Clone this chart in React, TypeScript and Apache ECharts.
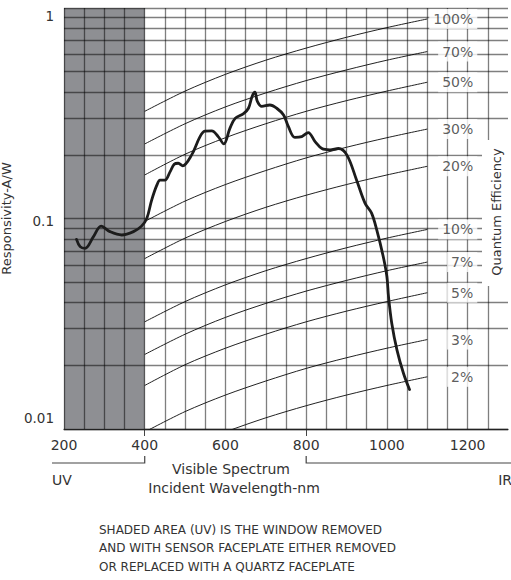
import React, { useEffect, useRef } from "react";
import * as echarts from "echarts";

// ---- data ----
const qeWavelengths = [400, 500, 600, 700, 800, 900, 1000, 1100];
const qe100 = [0.323, 0.403, 0.484, 0.565, 0.645, 0.726, 0.807, 0.887];
const qe70 = [0.226, 0.282, 0.339, 0.395, 0.452, 0.508, 0.565, 0.621];
const qe50 = [0.161, 0.202, 0.242, 0.282, 0.323, 0.363, 0.403, 0.444];
const qe30 = [0.0968, 0.121, 0.145, 0.169, 0.194, 0.218, 0.242, 0.266];
const qe20 = [0.0645, 0.0807, 0.0968, 0.113, 0.129, 0.145, 0.161, 0.177];
const qe10 = [0.0323, 0.0403, 0.0484, 0.0565, 0.0645, 0.0726, 0.0807, 0.0887];
const qe7 = [0.0226, 0.0282, 0.0339, 0.0395, 0.0452, 0.0508, 0.0565, 0.0621];
const qe5 = [0.0161, 0.0202, 0.0242, 0.0282, 0.0323, 0.0363, 0.0403, 0.0444];
const qe3 = [0.00968, 0.0121, 0.0145, 0.0169, 0.0194, 0.0218, 0.0242, 0.0266];
const qe2 = [0.00645, 0.00807, 0.00968, 0.0113, 0.0129, 0.0145, 0.0161, 0.0177];
const qeLines = [qe100, qe70, qe50, qe30, qe20, qe10, qe7, qe5, qe3, qe2];
const qeLabels = ["100%", "70%", "50%", "30%", "20%", "10%", "7%", "5%", "3%", "2%"];

const respWavelength = [231, 240, 252, 273, 292, 314, 343, 372, 392, 405, 417, 430, 438, 450, 463, 473, 483, 494, 516, 537, 549, 566, 582, 596, 611, 624, 644, 657, 666, 673, 679, 690, 710, 727, 744, 756, 772, 789, 805, 822, 839, 859, 880, 901, 925, 946, 962, 975, 991, 1000, 1004, 1012, 1025, 1041, 1056];
const respValue = [0.0796, 0.0735, 0.0722, 0.082, 0.092, 0.0866, 0.0835, 0.0866, 0.092, 0.1, 0.122, 0.144, 0.152, 0.152, 0.167, 0.181, 0.183, 0.178, 0.2, 0.245, 0.26, 0.261, 0.245, 0.226, 0.268, 0.299, 0.314, 0.334, 0.38, 0.398, 0.36, 0.341, 0.346, 0.334, 0.31, 0.273, 0.243, 0.245, 0.256, 0.232, 0.215, 0.212, 0.215, 0.2, 0.152, 0.118, 0.106, 0.088, 0.0658, 0.0529, 0.0425, 0.0318, 0.0237, 0.0184, 0.0154];

const uvRange = [200, 400];
const xGridValues = [200, 250, 300, 350, 400, 450, 500, 550, 600, 650, 700, 750, 800, 850, 900, 950, 1000, 1050, 1100, 1150, 1200, 1250];
const yGridValues = [0.01, 0.02, 0.03, 0.04, 0.05, 0.06, 0.07, 0.08, 0.09, 0.1, 0.2, 0.3, 0.4, 0.5, 0.6, 0.7, 0.8, 0.9, 1];
const xTickMarks = [400, 800];
const qeLabelX = 1224;

const FONT = "DejaVu Sans";
const TXT = "#333";

export default function App() {
  const ref = useRef<HTMLDivElement>(null);
  useEffect(() => {
    if (!ref.current) return;
    const chart = echarts.init(ref.current, undefined, { renderer: "svg" });
    const option: any = {
      animation: false,
      grid: { left: 64, top: 8, right: 3, bottom: 151, containLabel: false, outerBoundsMode: "none" },
      xAxis: {
        type: "value",
        min: 200,
        max: 1300,
        interval: 200,
        axisLine: { show: true, lineStyle: { color: "#444", width: 1.3 } },
        axisTick: { show: true, customValues: xTickMarks, length: 7, lineStyle: { color: "#444", width: 1 } },
        axisLabel: {
          showMaxLabel: false,
          fontSize: 14,
          color: TXT,
          fontFamily: FONT,
          margin: 9,
          formatter: (v: number) => String(v),
        },
        splitLine: { show: false },
      },
      yAxis: {
        type: "log",
        logBase: 10,
        min: 0.01,
        max: 1,
        name: "Responsivity-A/W",
        nameLocation: "middle",
        nameRotate: 90,
        nameGap: 46,
        nameTextStyle: { fontSize: 13, color: TXT, fontFamily: FONT },
        axisLine: { show: false },
        axisTick: { show: false },
        splitLine: { show: false },
        axisLabel: {
          margin: 10,
          formatter: (v: number) => (v > 0.5 ? "{t|1}" : v < 0.05 ? "{b|0.01}" : "{m|0.1}"),
          rich: {
            t: { fontSize: 13.5, color: TXT, fontFamily: FONT, padding: [16, 0, 0, 0] },
            m: { fontSize: 13.5, color: TXT, fontFamily: FONT, padding: [5, 0, 0, 0] },
            b: { fontSize: 13.5, color: TXT, fontFamily: FONT, padding: [0, 0, 22, 0] },
          },
        },
      },
      series: [
        {
          type: "line",
          name: "uv",
          data: [],
          z: 1,
          silent: true,
          markArea: {
            silent: true,
            itemStyle: { color: "#8e8f93" },
            data: [[{ xAxis: uvRange[0] }, { xAxis: uvRange[1] }]],
          },
        },
        {
          type: "line",
          name: "grid",
          data: [],
          z: 2,
          silent: true,
          markLine: {
            silent: true,
            symbol: ["none", "none"],
            label: { show: false },
            lineStyle: { color: "rgba(0,0,0,0.5)", width: 1.3, type: "solid" },
            emphasis: { disabled: true },
            data: [
              ...xGridValues.map((x) => ({ xAxis: x })),
              ...yGridValues.map((y) => ({ yAxis: y })),
            ],
          },
        },
        ...qeLines.map((arr, i) => ({
          type: "line",
          name: qeLabels[i],
          z: 3,
          silent: true,
          smooth: 0.3,
          showSymbol: false,
          symbol: "none",
          clip: true,
          lineStyle: { color: "#222", width: 1 },
          data: arr.map((v, j) => [qeWavelengths[j], v]),
        })),
        {
          type: "line",
          name: "Responsivity",
          z: 5,
          silent: true,
          smooth: 0.35,
          showSymbol: false,
          symbol: "none",
          lineStyle: { color: "#1c1c1c", width: 2.8, cap: "round", join: "round" },
          data: respWavelength.map((w, i) => [w, respValue[i]]),
        },
        {
          type: "scatter",
          name: "qeLabels",
          z: 8,
          silent: true,
          symbolSize: 0.1,
          itemStyle: { color: "rgba(0,0,0,0)" },
          label: {
            show: true,
            position: "left",
            distance: 0,
            color: TXT,
            fontSize: 14,
            fontFamily: FONT,
            backgroundColor: "#fff",
            padding: [3, 4],
            formatter: (p: any) => qeLabels[p.dataIndex],
          },
          data: qeLines.map((arr) => [qeLabelX, arr[arr.length - 1]]),
        },
      ],
    };
    chart.setOption(option);

    const x400 = chart.convertToPixel({ xAxisIndex: 0 }, xTickMarks[0]) as number;
    const x800 = chart.convertToPixel({ xAxisIndex: 0 }, xTickMarks[1]) as number;
    const lineStyle = { stroke: "#444", lineWidth: 1.2, fill: null };
    const textStyle = (text: string, x: number, y: number, align: string, size = 14) => ({
      type: "text",
      x,
      y,
      z: 100,
      style: { text, fill: TXT, font: `${size}px "${FONT}"`, align, verticalAlign: "middle" },
    });
    chart.setOption({
      graphic: [
        { type: "rect", z: 100, shape: { x: 482, y: 140, width: 30, height: 146 }, style: { fill: "#fff" } },
        {
          type: "text",
          x: 496,
          y: 212,
          z: 101,
          rotation: Math.PI / 2,
          style: { text: "Quantum Efficiency", fill: TXT, font: `13px "${FONT}"`, align: "center", verticalAlign: "middle" },
        },
        { type: "polyline", z: 100, shape: { points: [[52, 463], [x400, 463], [x400, 456]] }, style: lineStyle },
        { type: "polyline", z: 100, shape: { points: [[x800, 456], [x800, 463], [511, 463]] }, style: lineStyle },
        textStyle("UV", 52, 480, "left"),
        textStyle("IR", 512, 480, "right"),
        textStyle("Visible Spectrum", 231, 469, "center"),
        textStyle("Incident Wavelength-nm", 234, 488, "center"),
        textStyle("SHADED AREA (UV) IS THE WINDOW REMOVED", 99, 530, "left", 12),
        textStyle("AND WITH SENSOR FACEPLATE EITHER REMOVED", 99, 548, "left", 12),
        textStyle("OR REPLACED WITH A QUARTZ FACEPLATE", 99, 567, "left", 12),
      ],
    });
    return () => chart.dispose();
  }, []);
  return <div ref={ref} style={{ position: "fixed", left: 0, top: 0, width: 511, height: 580, background: "#fff" }} />;
}
